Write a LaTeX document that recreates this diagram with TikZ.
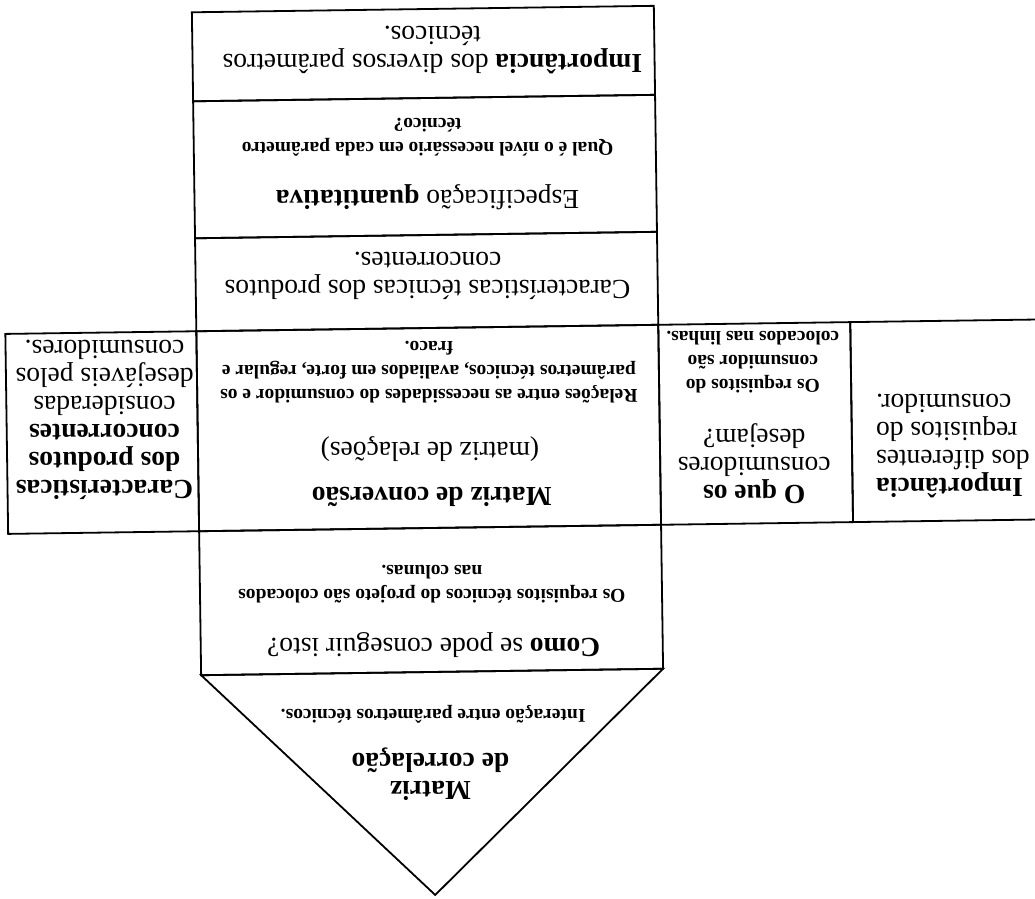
\documentclass[tikz,border=0pt]{standalone}
\usepackage{fontspec}
\setmainfont{Liberation Serif}
\begin{document}
\begin{tikzpicture}[x=1pt,y=-1pt,
  frame/.style={line width=1.8pt, line join=miter},
  big/.style={font=\fontsize{27.5}{28}\selectfont, align=center, rotate=180, inner sep=0pt},
  small/.style={font=\fontsize{19.5}{24}\selectfont\bfseries, align=center, rotate=180, inner sep=0pt}]
\useasboundingbox (0,0) rectangle (1035,898);
\clip (0,0) rectangle (1035,898);
\begin{scope}[rotate around={0.8:(429,450)}]
  % central column
  \draw[frame] (198,9)   rectangle (660,98);
  \draw[frame] (198,98)  rectangle (660,235);
  \draw[frame] (198,235) rectangle (660,328);
  \draw[frame] (198,328) rectangle (660,528);
  \draw[frame] (198,528) rectangle (660,672);
  % side rooms
  \draw[frame] (7,328)   rectangle (198,528);
  \draw[frame] (660,328) rectangle (852,528);
  \draw[frame] (852,328) rectangle (1080,528);
  % roof
  \draw[frame] (198,672) -- (660,672) -- (429,895) -- cycle;

  % texts (the whole sheet is upside down)
  \node[big] (imptec) at (438,50) {\textbf{Importância} dos diversos parâmetros\\técnicos.};
  \node[big] (espec) at (431,197) {Especificação \textbf{quantitativa}};
  \node[small] (especq) at (432,137) {Qual é o nível necessário em cada parâmetro\\técnico?};
  \node[big] (concorr) at (430,276) {Características técnicas dos produtos\\concorrentes.};
  \node[big] (conv) at (431,497) {\textbf{Matriz de conversão}};
  \node[big] (rel) at (430,449) {(matriz de relações)};
  \node[small] (relq) at (430,372) {Relações entre as necessidades do consumidor e os\\parâmetros técnicos, avaliados em forte, regular e\\fraco.};
  \node[big] (como) at (431,645) {\textbf{Como} se pode conseguir isto?};
  \node[small] (comoq) at (430,584) {Os requisitos técnicos do projeto são colocados\\nas colunas.};
  \node[big] (corr) at (426,774) {\textbf{Matriz}\\\textbf{de correlação}};
  \node[small] (corrq) at (429.5,714) {Interação entre parâmetros técnicos.};
  \node[big] (carac) at (105,415) {\textbf{Características}\\\textbf{dos produtos}\\\textbf{concorrentes}\\consideradas\\desejáveis pelos\\consumidores.};
  \node[big] (oque) at (754,468) {\textbf{O que os}\\consumidores\\desejam?};
  \node[small] (oqueq) at (754,367) {Os requisitos do\\consumidor são\\colocados nas linhas.};
  \node[big, align=right, anchor=east] (impcons) at (876,452) {\textbf{Importância}\\dos diferentes\\requisitos do\\consumidor.};
\end{scope}
\end{tikzpicture}
\end{document}
